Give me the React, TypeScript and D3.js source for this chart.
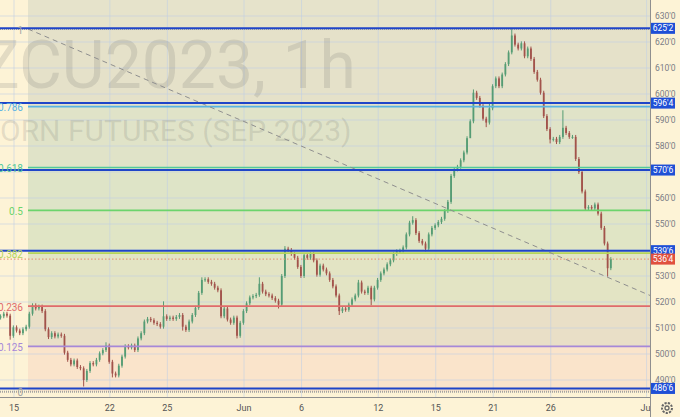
import React from "react";
import * as d3 from "d3";

// ---- data ----
const closes = [
  514.5, 515.5, 514.75, 507, 510.25, 509, 508, 509.5, 510.5, 515.5,
  518.75, 517.5, 518.25, 516.5, 509.5, 506.5, 508, 506.75, 507.5, 507,
  500.5, 497.75, 496, 497.5, 495, 494.5, 490, 493.5, 496.5, 496,
  497.75, 500.25, 501.5, 503.25, 497, 492.5, 491.75, 495.5, 499, 503,
  502.5, 503.25, 501.5, 506, 508, 512.5, 513.5, 513, 512, 511.5,
  510.5, 514.5, 513.5, 514, 513.5, 514.25, 515, 510.5, 509.25, 512.5,
  515, 517.75, 523.5, 528.5, 528.75, 527.75, 527, 525.5, 524.5, 514.5,
  517.5, 513.25, 512, 514, 507, 512, 516.5, 519.5, 521.75, 522.25,
  522.75, 527, 524, 523, 522.5, 521.5, 520.5, 519, 530, 540.5,
  540, 538.5, 537, 533.5, 530, 538, 537, 538.5, 536, 530.5,
  534, 532.5, 531, 528.5, 526, 522.5, 516.5, 517.5, 517, 519,
  521, 522.5, 527.5, 524, 523.5, 525.5, 521, 525.5, 528.5, 531,
  532.5, 534.5, 536, 538.5, 539.5, 539.75, 541, 546, 550.5, 551.5,
  546.5, 543.5, 542.5, 540.5, 546, 548.5, 549.5, 550.75, 552, 555,
  558.5, 568.5, 571, 572, 574.5, 577.5, 583, 589.5, 600.5, 598.5,
  595.5, 590.5, 589, 594.5, 603, 606, 603, 607.5, 611.5, 616,
  622.5, 619, 617.5, 619.5, 614.5, 617.5, 613.5, 608.5, 605.5, 600.5,
  591.5, 586.5, 582.5, 582.75, 581.5, 583.5, 587, 585, 583.5, 583.5,
  575, 570, 562.5, 556, 556.5, 556, 557.5, 554, 548.5, 542.5,
  533, 536.5,
];
const firstOpen = 514;
const startDay = -0.7;
const barsPerDay = 6;
const highWicks: [number, number][] = [
  [10, 519.5], [33, 504.5], [51, 520.25], [63, 529.5], [81, 529.5], [89, 541.5],
  [112, 528.5], [129, 553], [148, 601.75], [153, 596.5], [160, 625.25], [176, 593.75],
];
const lowWicks: [number, number][] = [
  [3, 505.5], [26, 487.5], [35, 491], [57, 509], [74, 506], [87, 517.5], [106, 515],
  [116, 518.75], [133, 539.5], [147, 586], [152, 587.25], [172, 581], [190, 529.75],
];

const gridPrices = [630, 620, 610, 600, 590, 580, 570, 560, 550, 540, 530, 520, 510, 500, 490];
const priceTicks = [630, 620, 610, 600, 590, 580, 560, 550, 530, 520, 510, 500, 490];
const timeTickDays = [0, 5, 8, 12, 15, 19, 22, 25, 28, 33];
const timeTickLabels = ["15", "22", "25", "Jun", "6", "12", "15", "21", "26", "Jul"];

const hLevels = [625.25, 596.5, 570.75, 539.75, 486.75];
const hLabels = ["625'2", "596'4", "570'6", "539'6", "486'6"];
const lastPrice = 536.5;
const lastLabel = "536'4";

const fibLevels = [0, 0.125, 0.236, 0.382, 0.5, 0.618, 0.786, 1];
const fibLabels = ["0", "0.125", "0.236", "0.382", "0.5", "0.618", "0.786", "1"];
const fibColors = ["#a3a3a3", "#a688d8", "#e06b6b", "#b5d55a", "#6cd46c", "#52c99a", "#58b3e3", "#a3a3a3"];
const fibZoneColors = ["#fae4cb", "#e9dfc7", "#e3e4c4", "#e0e5c5", "#dee4c7", "#e0e3c8", "#e5e1c9"];
const fibLow = 485.5;
const fibHigh = 625;
const fibStartDay = 0.73;
const fibEndDay = 44.9;

const titleLine1 = "ZCU2023, 1h";
const titleLine2 = "CORN FUTURES (SEP 2023)";

const fmt = (p: number) => `${Math.floor(p)}'${Math.round((p - Math.floor(p)) * 8)}`;

export default function App() {
  const W = 680, H = 417, plotR = 650, plotB = 397;
  const x = d3.scaleLinear().domain([0, 33]).range([14, 646.6]);
  const y = d3.scaleLinear().domain([490, 630]).range([380, 16]);
  const hiMap = new Map(highWicks);
  const loMap = new Map(lowWicks);
  const bars = closes.map((c, i) => {
    const o = i === 0 ? firstOpen : closes[i - 1];
    const hi = hiMap.get(i) ?? Math.max(o, c) + 0.75;
    const lo = loMap.get(i) ?? Math.min(o, c) - 0.75;
    return { o, c, hi, lo, cx: x(startDay + i / barsPerDay) };
  });
  const fibPrice = (l: number) => fibLow + l * (fibHigh - fibLow);
  const fx0 = x(fibStartDay);
  const font = "Roboto, 'Liberation Sans', sans-serif";
  const up = "#559c74";
  const dn = "#a2534b";

  const t0 = { x: fx0, y: y(fibHigh) };
  const t1 = { x: x(fibEndDay), y: y(fibLow) };

  return (
    <svg width={W} height={H} style={{ position: "absolute", left: 0, top: 0, display: "block" }}
      fontFamily={font}>
      <defs>
        <clipPath id="plot"><rect x={0} y={0} width={plotR} height={plotB} /></clipPath>
        <clipPath id="taxis"><rect x={0} y={plotB} width={plotR} height={H - plotB} /></clipPath>
      </defs>
      <rect x={0} y={0} width={W} height={H} fill="#fdf3d6" />
      <g clipPath="url(#plot)">
        <rect x={fx0} y={0} width={plotR - fx0} height={y(fibHigh)} fill="#e6e3cb" />
        {fibLevels.slice(0, -1).map((l, k) => {
          const yTop = y(fibPrice(fibLevels[k + 1]));
          const yBot = y(fibPrice(l));
          return <rect key={k} x={fx0} y={yTop} width={plotR - fx0} height={yBot - yTop} fill={fibZoneColors[k]} />;
        })}
        {gridPrices.map((p) => (
          <line key={p} x1={0} x2={plotR} y1={y(p)} y2={y(p)} stroke="rgba(190,205,230,0.55)" strokeWidth={1} />
        ))}
        {timeTickDays.map((d) => (
          <line key={d} x1={x(d)} x2={x(d)} y1={0} y2={plotB} stroke="rgba(190,205,230,0.55)" strokeWidth={1} />
        ))}
        <text x={168} y={88} textAnchor="middle" fontSize={66} fill="rgba(100,100,100,0.17)">{titleLine1}</text>
        <text x={166} y={141} textAnchor="middle" fontSize={30} fill="rgba(100,100,100,0.17)">{titleLine2}</text>
        {bars.map((b, i) => {
          const col = b.c >= b.o ? up : dn;
          const yt = y(Math.max(b.o, b.c));
          const yb = y(Math.min(b.o, b.c));
          return (
            <g key={i}>
              <line x1={b.cx} x2={b.cx} y1={y(b.hi)} y2={y(b.lo)} stroke={col} strokeWidth={1} />
              <rect x={b.cx - 0.9} y={yt} width={1.8} height={Math.max(1, yb - yt)} fill={col} />
            </g>
          );
        })}
        {fibLevels.map((l, k) => {
          const yy = y(fibPrice(l));
          const ends = l === 0 || l === 1;
          return (
            <line key={k} x1={ends ? 0 : fx0} x2={plotR} y1={yy} y2={yy} stroke={fibColors[k]}
              strokeWidth={ends ? 2 : 1.6} strokeDasharray={ends ? "1,1" : undefined} />
          );
        })}
        <line x1={t0.x} y1={t0.y} x2={t1.x} y2={t1.y} stroke="#8f8f8f" strokeWidth={1} strokeDasharray="5,4" />
        {hLevels.map((p) => (
          <line key={p} x1={0} x2={plotR} y1={y(p)} y2={y(p)} stroke="#1f45c8" strokeWidth={2} />
        ))}
        <line x1={0} x2={plotR} y1={y(lastPrice)} y2={y(lastPrice)} stroke="#e58a6c" strokeWidth={1} strokeDasharray="1.5,2" />
      </g>
      {fibLevels.map((l, k) => (
        <text key={k} x={23} y={y(fibPrice(l)) + 1} textAnchor="end" dominantBaseline="central" fontSize={10}
          fill={fibColors[k]}>{fibLabels[k]}</text>
      ))}
      <line x1={plotR + 0.5} x2={plotR + 0.5} y1={0} y2={H} stroke="#8f8f8f" strokeWidth={1} />
      <line x1={0} x2={plotR} y1={plotB + 0.5} y2={plotB + 0.5} stroke="#8f8f8f" strokeWidth={1} />
      {priceTicks.map((p) => (
        <text key={p} x={655} y={y(p)} dominantBaseline="central" fontSize={8.5} fill="#7a7c85">{fmt(p)}</text>
      ))}
      {hLevels.map((p, k) => (
        <g key={p}>
          <rect x={651} y={y(p) - 5.5} width={24} height={11} fill="#1f4fd6" />
          <text x={663} y={y(p)} textAnchor="middle" dominantBaseline="central" fontSize={8.5} fill="#fff">{hLabels[k]}</text>
        </g>
      ))}
      <rect x={651} y={y(lastPrice) - 5.5} width={24} height={11} fill="#e0503f" />
      <text x={663} y={y(lastPrice)} textAnchor="middle" dominantBaseline="central" fontSize={8.5} fill="#fff">{lastLabel}</text>
      <g clipPath="url(#taxis)">
        {timeTickDays.map((d, k) => (
          <text key={d} x={x(d)} y={408} textAnchor="middle" dominantBaseline="central" fontSize={9} fill="#555">
            {timeTickLabels[k]}
          </text>
        ))}
      </g>
      <g transform="translate(667,408)" fill="none" stroke="#666" strokeWidth={1.3}>
        <circle r={5} strokeDasharray="2.2,1.2" strokeWidth={2} />
        <circle r={2} />
      </g>
    </svg>
  );
}
